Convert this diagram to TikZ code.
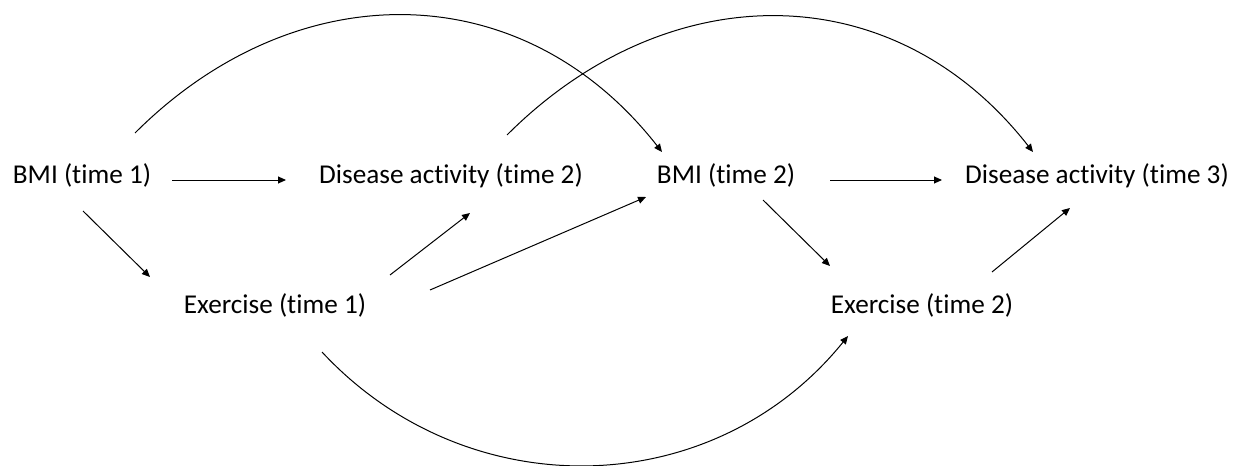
\documentclass[tikz,border=0pt]{standalone}
\usepackage{fontspec}
\setmainfont{Carlito}[Ligatures=NoCommon]
\usetikzlibrary{arrows.meta}

\begin{document}
\begin{tikzpicture}
  [x=0.5pt,y=-0.5pt,
   every node/.style={inner sep=0pt,anchor=base,font=\fontsize{13.6}{16}\selectfont},
   arr/.style={line width=0.5pt,-{Triangle[length=4pt,width=3.5pt]}}]
  \useasboundingbox (0,0) rectangle (1233,466);

  \node (bmi1) at (82,183)   {BMI (time 1)};
  \node (da2)  at (451,183)  {Disease activity (time 2)};
  \node (bmi2) at (726,183)  {BMI (time 2)};
  \node (da3)  at (1097,183) {Disease activity (time 3)};
  \node (ex1)  at (275,313)  {Exercise (time 1)};
  \node (ex2)  at (922,313)  {Exercise (time 2)};

  \foreach \from/\fx/\fy/\to/\tx/\ty in {bmi1/90/-3/da2/-165/-3, bmi1/1/28/ex1/-125/-36,
      ex1/115/-38/da2/19/30, ex1/155/-23/bmi2/-80/14, bmi2/37/17/ex2/-92/-47,
      bmi2/104/-3/da3/-155/-3, ex2/70/-41/da3/-27/25}
    \draw[arr] ([shift={(\fx,\fy)}]\from.base) -- ([shift={(\tx,\ty)}]\to.base);

  % arcs across time points
  \draw[arr] ([shift={(53,-50)}]bmi1.base) .. controls +(160,-160) and +(-140,-179) .. ([shift={(-64,-31)}]bmi2.base);
  \draw[arr] ([shift={(56,-48)}]da2.base) .. controls +(160,-160) and +(-140,-179) .. ([shift={(-64,-31)}]da3.base);
  \draw[arr] ([shift={(47,39)}]ex1.base) .. controls +(145,156) and +(-135,167) .. ([shift={(-74,23)}]ex2.base);

\end{tikzpicture}
\end{document}
